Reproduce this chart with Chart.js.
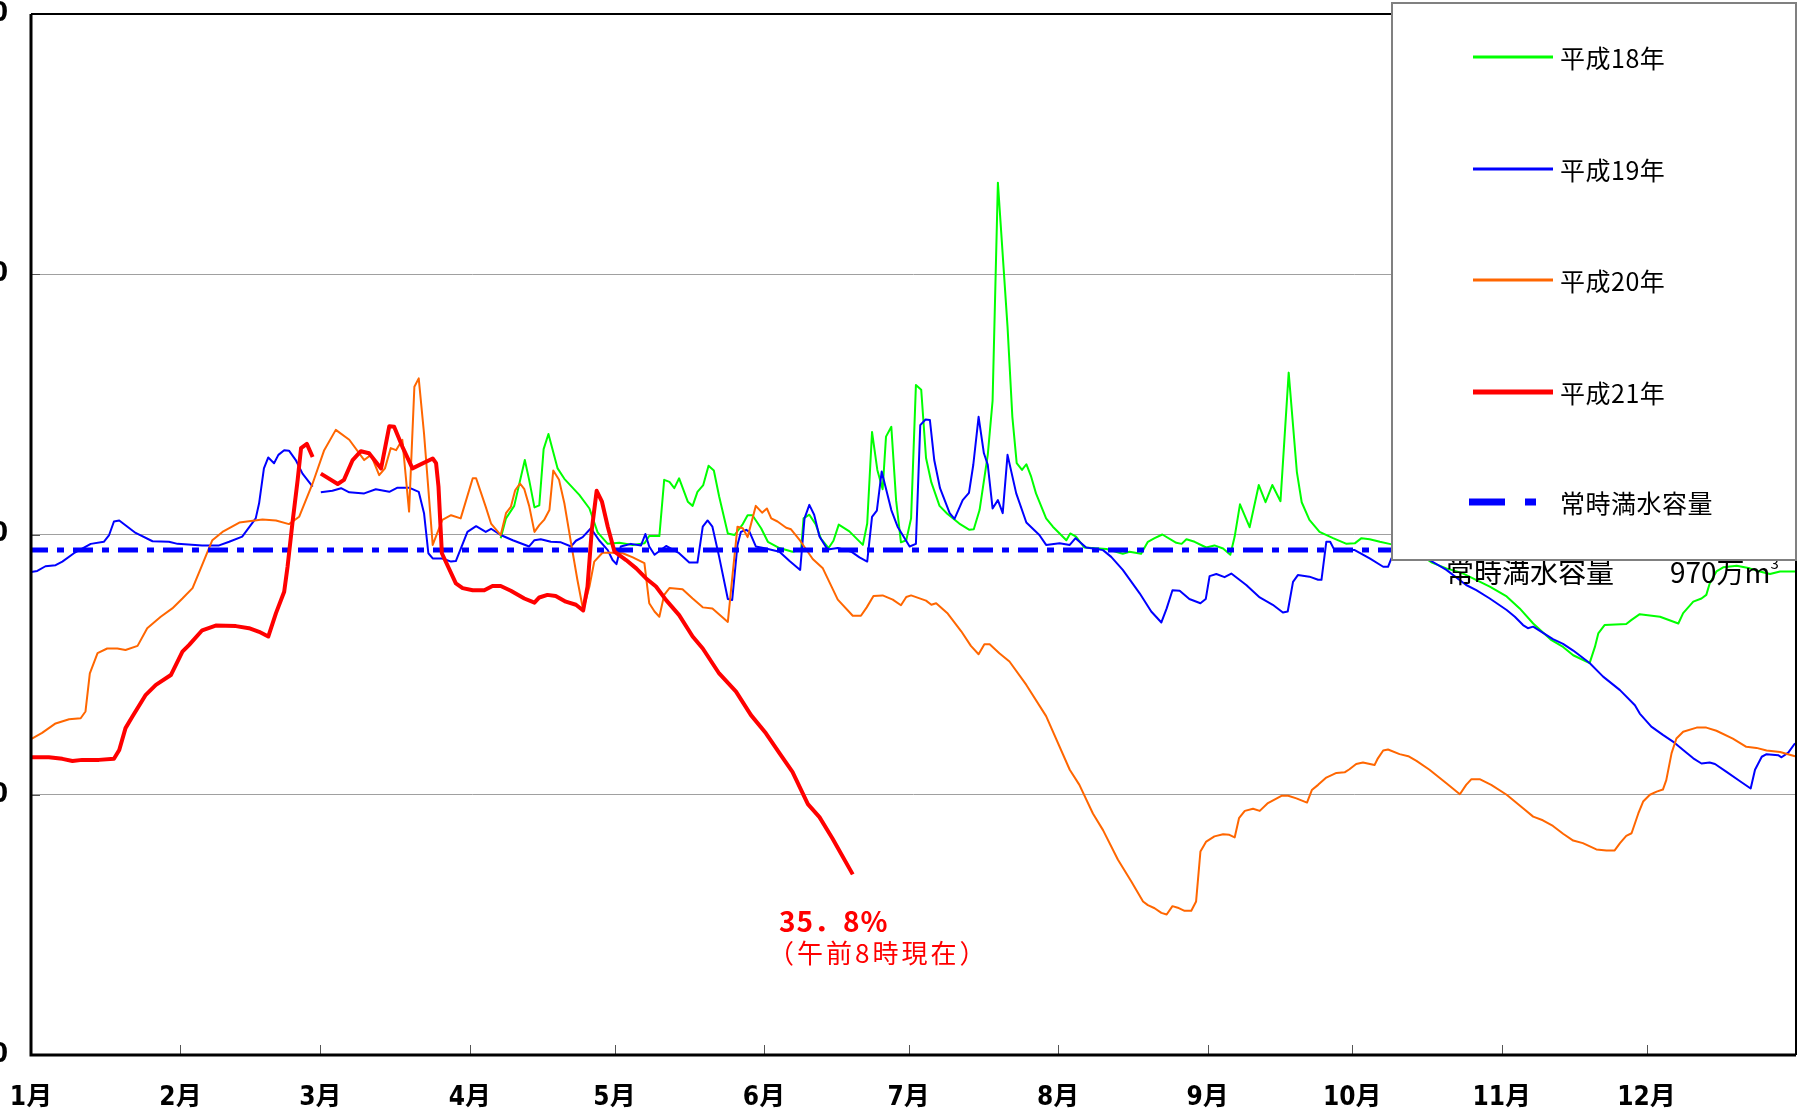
<!DOCTYPE html>
<html>
<head>
<meta charset="utf-8">
<title>貯水量の推移</title>
<script src="https://cdn.jsdelivr.net/npm/chart.js@4.4.1/dist/chart.umd.min.js"></script>
<style>
  html, body { margin: 0; padding: 0; background: #fff; overflow: hidden; }
  body { width: 1798px; height: 1113px; position: relative; font-family: "Noto Sans CJK JP", sans-serif; }
  #wrap { position: absolute; left: -120px; top: 0; width: 1918px; height: 1113px; }
  .note { position: absolute; left: 1446px; top: 551px; font-size: 28px; line-height: 32px; color: #000; white-space: pre; }
  .note sup { font-size: 15px; position: relative; top: -4px; }
  #legend { position: absolute; left: 1391px; top: 2px; width: 406px; height: 559px; box-sizing: border-box;
            border: 2px solid #808080; background: #fff; }
  .row { position: absolute; left: 0; width: 100%; height: 0; }
  .sample { position: absolute; left: 80px; width: 80px; transform: translateY(-50%); }
  .lbl { position: absolute; left: 167px; transform: translateY(-50%); font-size: 25px; line-height: 28px; color: #000; white-space: nowrap; letter-spacing: 0.5px; }
  #pct { position: absolute; left: 779px; top: 904px; color: #f00; font-family: "Noto Sans CJK JP", sans-serif; }
  #pct .big { font-size: 28px; font-weight: bold; line-height: 32px; letter-spacing: 1px; }
  #pct .small { font-size: 26px; line-height: 32px; letter-spacing: 3px; margin-left: -11px; }
</style>
</head>
<body>
<div id="wrap"><canvas id="damChart"></canvas></div>
<div class="note">常時満水容量　　970万m<sup>3</sup></div>
<div id="legend"></div>
<div id="pct"><div class="big">35．8%</div><div class="small">（午前8時現在）</div></div>
<script>
// 日付は1月1日=0 (うるう年の2月29日=59を含む366日)、値は万m3
const monthStarts = [0, 31, 60, 91, 121, 152, 182, 213, 244, 274, 305, 335];
const monthLabels = ['1月', '2月', '3月', '4月', '5月', '6月', '7月', '8月', '9月', '10月', '11月', '12月'];
const seriesNames = ['平成18年', '平成19年', '平成20年', '平成21年', '常時満水容量'];
const seriesColors = ['#00ff00', '#0000ff', '#ff6600', '#ff0000', '#0000ff'];
const capacity = 970;

const h18 = [[97.4,993],[98.5,1031],[100.2,1055],[102.4,1143],[103.3,1105],[104.4,1052],[105.4,1056],[106.3,1164],
  [107.3,1193],[109.2,1127],[110.6,1107],[113.7,1076],[115.8,1050],[117.5,1004],[119.6,982],[122,984],[124.8,980],
  [127.2,983],[128.2,997],[130.3,997],[131.3,1105],[132.4,1101],[133.4,1089],[134.4,1108],[136.2,1063],[137.2,1055],
  [138.2,1082],[139.4,1095],[140.5,1132],[141.6,1123],[142.7,1073],[144.5,1002],[145.9,999],[147.6,1020],[148.6,1037],
  [149.6,1037],[151.4,1012],[152.8,986],[155.2,974],[157.9,967],[159.7,971],[160.2,1031],[161.4,1038],[162.7,1020],
  [163.8,992],[165.4,974],[166.4,988],[167.5,1019],[169.7,1006],[172.5,980],[173.4,1021],[174.4,1197],[175.5,1124],
  [176.6,1087],[177.3,1188],[178.4,1207],[179.4,1065],[180.4,985],[181.5,989],[182.5,1031],[183.5,1287],[184.6,1278],
  [185.6,1147],[186.7,1100],[188.4,1055],[190,1040],[192.5,1021],[194.6,1009],[195.5,1010],[196.7,1047],[198.4,1153],
  [199.4,1257],[200.5,1676],[202.5,1399],[203.5,1226],[204.4,1137],[205.5,1124],[206.4,1135],[207.4,1111],[208.4,1079],
  [210.5,1031],[211.9,1015],[214.7,989],[215.5,1002],[216.7,996],[218.4,975],[223,972],[226.4,963],[227.8,967],
  [230.2,963],[231.6,986],[233,993],[234.6,1000],[237.5,984],[238.6,982],[239.6,991],[241.3,986],[243.7,975],
  [245.4,979],[247.2,973],[248.7,961],[249.6,996],[250.7,1058],[252.7,1014],[254.6,1095],[256,1062],[257.4,1095],
  [259.1,1064],[260.8,1311],[262.5,1120],[263.5,1062],[265.1,1028],[267.2,1005],[270,993],[272.8,982],[274.5,983],
  [275.9,993],[277.6,991],[279.7,986],[281.7,982],[285,975],[288,962],[290.5,946],[293.5,935],[297,925],[302.5,900],
  [306,881],[308.7,858],[311.5,829],[315.3,797],[317.7,784],[319.8,768],[323.2,753],[324.3,784],[325,810],[326.3,826],
  [330.8,828],[331.9,836],[333.6,847],[337.8,842],[341.6,829],[342.6,849],[344.7,871],[346.4,877],[347.4,884],
  [348.1,906],[349.5,929],[350.9,937],[353.7,940],[356.4,935],[358.5,929],[360.6,924],[362.7,929],[365.8,929]];

const h19 = [[0,928],[1.3,930],[3,939],[5.1,941],[6.5,948],[8.9,964],[12.4,982],[15.1,986],[16.2,999],[17.2,1025],
  [18.3,1027],[21.7,1003],[25.2,987],[28.6,986],[30.4,982],[35.5,979],[39,979],[41.1,986],[43.8,996],[46.6,1031],
  [47.3,1060],[48.3,1127],[49.2,1148],[50.4,1137],[51.3,1153],[52.5,1162],[53.5,1161],[54.9,1143],[56.3,1117],
  [58.4,1092],[59,null],[60.1,1081],[62.5,1084],[64.3,1089],[66,1081],[69.1,1079],[71.5,1087],[74.3,1082],[76,1090],
  [78.4,1090],[80.4,1082],[81.5,1041],[82.4,964],[83.3,954],[85.3,954],[87.1,948],[88.1,949],[90.5,1005],[92.3,1016],
  [94.3,1005],[95.4,1011],[97.4,999],[99.9,989],[103.3,977],[104.4,989],[105.7,991],[107.8,986],[109.9,985],[112,977],
  [113,988],[114.4,995],[116.1,1012],[117.8,989],[119.6,970],[120.6,951],[121.4,943],[122.3,977],[124.4,982],
  [126.5,979],[127.4,1001],[128.2,977],[129.3,961],[131.7,978],[134.4,964],[136.5,946],[138.2,946],[139.3,1015],
  [140.3,1027],[141.3,1015],[142.7,957],[144.5,876],[145.4,874],[146.5,980],[147.2,1005],[148.3,1009],[149,1005],
  [150.3,977],[152.4,973],[155.2,967],[157.3,949],[159.5,932],[160.4,1031],[161.4,1057],[162.4,1038],[163.5,996],
  [165.2,971],[167.3,974],[170.1,967],[171.8,956],[173.4,948],[174.4,1034],[175.4,1046],[176.4,1121],[178.4,1047],
  [179.7,1015],[182.2,977],[183.5,982],[184.4,1210],[185.5,1221],[186.4,1220],[187.3,1143],[188.5,1089],[190.5,1041],
  [191.5,1030],[193.2,1066],[194.5,1080],[195.4,1134],[196.5,1226],[197.6,1156],[198.4,1134],[199.4,1050],[200.5,1066],
  [201.5,1041],[202.5,1153],[204.3,1079],[206.4,1023],[209.1,999],[210.5,980],[213.3,983],[215.4,980],[216.6,993],
  [218.8,975],[222.3,970],[224,957],[226.4,932],[229.9,887],[232.3,852],[234.4,831],[235.5,858],[236.7,893],
  [238.2,892],[240.2,876],[242.5,868],[243.6,876],[244.4,920],[245.8,924],[247.5,918],[248.9,925],[252,903],
  [254.8,879],[257.5,865],[259.6,850],[260.6,852],[261.7,909],[262.7,922],[265.1,919],[266.9,913],[267.6,913],
  [268.6,986],[269.4,986],[270.3,970],[272.1,970],[274.5,970],[277.6,954],[280.4,938],[281.4,938],[282.1,954],
  [284,975],[287,975],[290,951],[293.5,932],[297.6,903],[299.7,893],[302.5,877],[306,855],[307.7,842],[309.4,826],
  [310.4,820],[311.5,823],[315.6,799],[317.7,790],[319.8,777],[323.2,753],[326,727],[329.5,701],[332.6,672],
  [333.6,656],[336,631],[338.4,615],[340.8,600],[342.6,586],[344.7,570],[346.4,560],[348.1,562],[349.2,559],
  [351.6,544],[354.4,526],[356.6,512],[357.5,548],[358.9,573],[359.9,578],[362.3,576],[363,572],[364.4,581],[365.8,599]];

const h20 = [[0,607],[2.3,619],[5.1,637],[7.9,645],[10.3,647],[11.3,660],[12.2,733],[13.8,772],[15.8,781],[17.9,781],
  [19.6,778],[22.1,786],[24.1,820],[26.9,842],[29.3,858],[31.4,877],[33.5,897],[35.2,935],[37.6,989],[39.7,1005],
  [43.2,1023],[48,1029],[50.8,1027],[53.5,1020],[55.6,1034],[58.4,1098],[60.8,1162],[63.2,1201],[66,1182],[69.1,1143],
  [70.5,1153],[72.2,1114],[73.4,1127],[74.6,1166],[75.7,1162],[77,1182],[78.4,1044],[79.5,1284],[80.4,1300],
  [81.5,1194],[83.3,980],[85.3,1028],[87.1,1037],[89.1,1031],[91.6,1108],[92.3,1108],[94.3,1053],[95.4,1021],
  [97.4,999],[98.5,1041],[99.5,1053],[100.4,1085],[101.4,1098],[102.3,1087],[103.3,1055],[104.4,1005],[105.4,1018],
  [106.4,1028],[107.5,1047],[108.3,1123],[109.5,1105],[110.6,1060],[112,983],[113.3,913],[114.5,855],[115.8,900],
  [116.8,948],[118.5,965],[120.6,965],[122.7,964],[124.8,956],[127.2,945],[128.2,868],[129.3,852],[130.3,842],
  [131.3,884],[132.4,897],[135.1,895],[137.2,877],[139.3,860],[141.3,858],[144.5,832],[145.5,925],[146.5,1015],
  [147.6,1012],[148.6,995],[150.3,1055],[151.6,1042],[152.6,1050],[153.5,1031],[154.8,1025],[156.6,1013],[157.6,1010],
  [159.5,988],[162.1,953],[164.2,935],[167.3,875],[170.4,844],[172.1,844],[173.3,860],[174.7,882],[176.6,883],
  [178.7,875],[180.4,864],[181.5,880],[182.5,883],[185.6,873],[186.7,865],[187.7,868],[190.1,848],[192.9,814],
  [194.9,786],[196.5,770],[197.7,789],[198.8,789],[200.8,772],[202.9,756],[206.4,711],[210.5,651],[215.4,548],
  [217.4,519],[220.2,464],[222.3,432],[225.4,375],[228.2,333],[230.6,295],[231.6,288],[233,282],[234.4,273],
  [235.5,270],[236.7,286],[237.8,283],[239.2,277],[240.6,277],[241.6,295],[242.5,391],[243.7,410],[245.4,420],
  [247.2,424],[248.5,423],[249.6,418],[250.5,455],[251.7,469],[253.4,473],[254.8,469],[256.5,484],[259.3,498],
  [260.7,498],[262.4,493],[264.6,485],[265.6,509],[266.9,519],[268.6,533],[270.7,542],[272.4,543],[273.4,549],
  [274.8,559],[276.2,562],[278.6,557],[279.3,570],[280.4,585],[281.4,587],[283.8,578],[285.6,574],[287.3,565],
  [290,548],[293.5,522],[296.3,501],[297.6,519],[298.7,530],[300.4,530],[302.8,519],[306,500],[309.4,474],[311.5,458],
  [313.5,451],[315.6,440],[317.7,425],[319.8,412],[321.8,407],[324.6,395],[326.7,393],[328.4,393],[329.5,407],
  [330.8,421],[331.9,426],[333.3,464],[334.3,487],[335.7,500],[337.1,506],[338.4,510],[339.1,528],[340.2,580],
  [341.2,608],[342.6,621],[345.4,629],[347.4,629],[349.5,623],[352.9,608],[355.7,592],[357.8,590],[359.9,585],
  [362.7,582],[365.8,574]];

const h21 = [[0,572],[3.7,572],[6.5,569],[8.6,565],[10.6,567],[14.1,567],[17.2,569],[18.3,586],[19.6,628],[21,650],
  [23.8,692],[25.9,711],[29,730],[31.4,775],[32.8,788],[35.5,816],[38.3,825],[42.5,824],[45.2,820],[47.3,813],
  [49.2,804],[50.8,849],[52.5,890],[53.2,938],[54.2,1021],[55.3,1105],[56,1166],[57.2,1174],[58.4,1149],[59,null],
  [60.1,1117],[63.6,1097],[64.9,1105],[66.7,1143],[68.4,1160],[70.1,1156],[72.6,1127],[74.3,1208],[75.3,1207],
  [77,1169],[79.1,1127],[83.3,1146],[84,1137],[84.5,1092],[85.2,964],[88.1,906],[89.5,897],[91.6,893],[94,893],
  [95.7,901],[97.4,901],[99.5,892],[102.3,877],[104.4,869],[105.4,879],[107.1,884],[108.8,882],[110.9,871],[113,865],
  [114.5,854],[115.4,900],[116.3,1010],[117.3,1084],[118.4,1063],[119.6,1015],[121,967],[123.4,951],[125.5,935],
  [127.5,916],[129.6,900],[131.7,874],[134.4,845],[137.2,804],[139.3,781],[142.7,733],[146.2,698],[149.3,653],
  [152.4,618],[155.2,580],[157.9,544],[161.1,482],[163.5,457],[166.2,416],[170.4,347]];

function toPoints(rows) {
  return rows.map(function (r) { return { x: r[0], y: r[1] }; });
}

// 枠線と内向きの目盛り
const framePlugin = {
  id: 'frame',
  afterDatasetsDraw: function (chart) {
    const ctx = chart.ctx, a = chart.chartArea;
    const xs = chart.scales.x, ys = chart.scales.y;
    ctx.save();
    ctx.strokeStyle = '#555';
    ctx.lineWidth = 1;
    monthStarts.slice(1).forEach(function (d) {
      const px = Math.round(xs.getPixelForValue(d)) + 0.5;
      ctx.beginPath(); ctx.moveTo(px, a.bottom); ctx.lineTo(px, a.bottom - 10); ctx.stroke();
    });
    [500, 1000, 1500].forEach(function (v) {
      const py = Math.round(ys.getPixelForValue(v)) + 0.5;
      ctx.beginPath(); ctx.moveTo(a.left, py); ctx.lineTo(a.left + 9, py); ctx.stroke();
    });
    ctx.strokeStyle = '#000';
    ctx.lineWidth = 2;
    ctx.beginPath();
    ctx.moveTo(a.left, a.top); ctx.lineTo(a.right, a.top); ctx.lineTo(a.right, a.bottom);
    ctx.stroke();
    ctx.lineWidth = 3;
    ctx.beginPath();
    ctx.moveTo(a.left, a.top); ctx.lineTo(a.left, a.bottom); ctx.lineTo(a.right, a.bottom);
    ctx.stroke();
    ctx.restore();
  }
};

const axisFont = { family: '"Liberation Sans Narrow", "DejaVu Sans Condensed", "Noto Sans CJK JP", sans-serif', size: 26, weight: 'bold' };

new Chart(document.getElementById('damChart'), {
  type: 'line',
  data: {
    datasets: [
      { label: seriesNames[3], data: toPoints(h21), borderColor: seriesColors[3], borderWidth: 4, order: 0 },
      { label: seriesNames[4], data: toPoints([[0, capacity], [366, capacity]]), borderColor: seriesColors[4],
        borderWidth: 5, borderDash: [20, 9, 7, 9], borderDashOffset: 3, borderCapStyle: 'butt', order: 1 },
      { label: seriesNames[2], data: toPoints(h20), borderColor: seriesColors[2], borderWidth: 2, order: 2 },
      { label: seriesNames[1], data: toPoints(h19), borderColor: seriesColors[1], borderWidth: 2, order: 3 },
      { label: seriesNames[0], data: toPoints(h18), borderColor: seriesColors[0], borderWidth: 2, order: 4 }
    ]
  },
  options: {
    responsive: true,
    maintainAspectRatio: false,
    animation: false,
    spanGaps: false,
    layout: { padding: { top: 14, right: 2, left: 0, bottom: 0 } },
    elements: { point: { radius: 0 }, line: { tension: 0, fill: false, borderJoinStyle: 'round' } },
    plugins: { legend: { display: false }, tooltip: { enabled: false } },
    scales: {
      x: {
        type: 'linear', min: 0, max: 366,
        afterBuildTicks: function (s) { s.ticks = monthStarts.map(function (v) { return { value: v }; }); },
        afterFit: function (s) { s.height = 58; s.paddingLeft = 0; s.paddingRight = 0; },
        ticks: {
          autoSkip: false, maxRotation: 0, padding: 28, color: '#000', font: axisFont,
          callback: function (v) { return monthLabels[monthStarts.indexOf(v)]; }
        },
        grid: { display: false, drawTicks: false },
        border: { display: false }
      },
      y: {
        min: 0, max: 2000,
        afterFit: function (s) { s.width = 151; s.paddingTop = 0; s.paddingBottom = 0; },
        ticks: { stepSize: 500, padding: 23, color: '#000', font: axisFont },
        grid: {
          drawTicks: false, lineWidth: 1,
          color: function (c) { return (c.tick.value > 0 && c.tick.value < 2000) ? '#a0a0a0' : 'rgba(0,0,0,0)'; }
        },
        border: { display: false }
      }
    }
  },
  plugins: [framePlugin]
});

// 凡例
const legend = document.getElementById('legend');
const rowTops = [53, 165, 276, 388, 498];
seriesNames.forEach(function (name, i) {
  const row = document.createElement('div');
  row.className = 'row';
  row.style.top = rowTops[i] + 'px';
  if (i < 4) {
    const s = document.createElement('div');
    s.className = 'sample';
    s.style.height = (i === 3 ? 5 : 3) + 'px';
    s.style.background = seriesColors[i];
    row.appendChild(s);
  } else {
    const a = document.createElement('div');
    a.className = 'sample';
    a.style.left = '76px'; a.style.width = '36px'; a.style.height = '7px'; a.style.background = seriesColors[i];
    const b = document.createElement('div');
    b.className = 'sample';
    b.style.left = '132px'; b.style.width = '11px'; b.style.height = '7px'; b.style.background = seriesColors[i];
    row.appendChild(a); row.appendChild(b);
  }
  const t = document.createElement('div');
  t.className = 'lbl';
  t.textContent = name;
  row.appendChild(t);
  legend.appendChild(row);
});
</script>
</body>
</html>
